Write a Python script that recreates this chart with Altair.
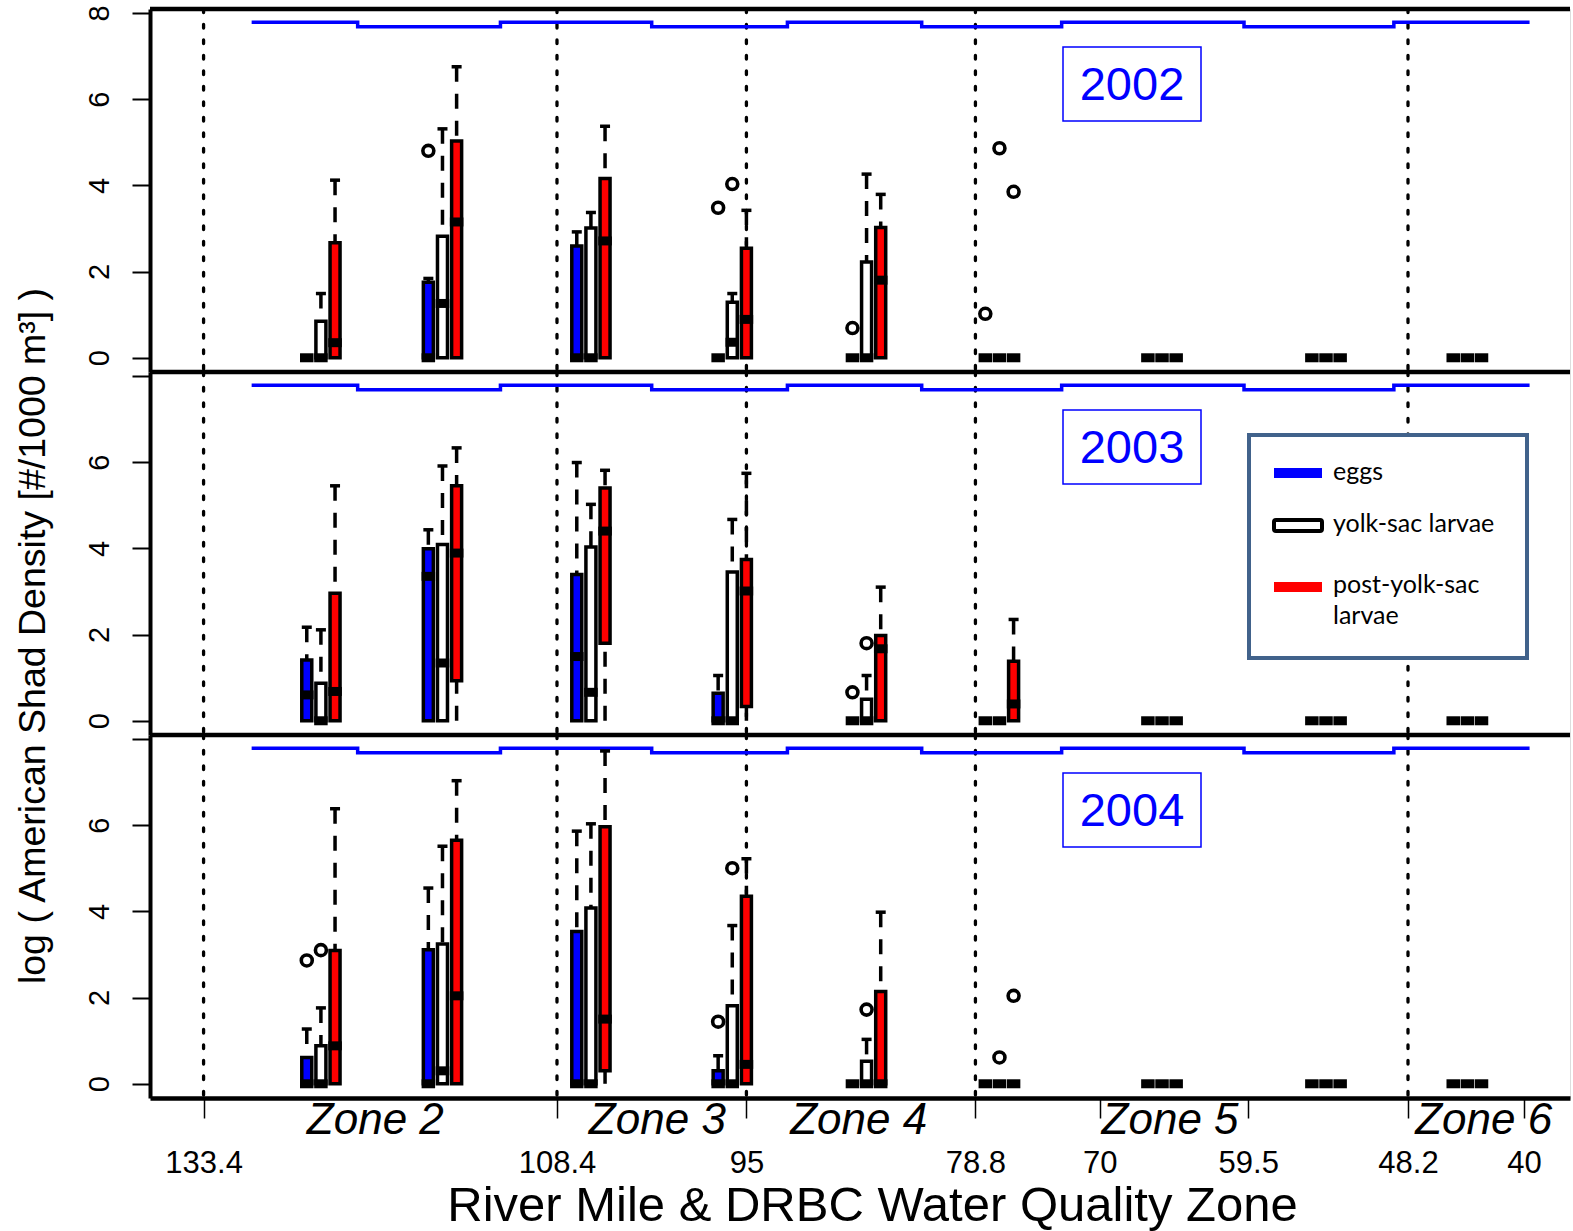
import altair as alt
import pandas as pd

# ---------------- data ----------------
years = [2002, 2003, 2004]
species = ["eggs", "yolk-sac larvae", "post-yolk-sac larvae"]
species_colors = ["#0000ff", "#ffffff", "#ff0000"]
species_offset = [1.0, 0.0, -1.0]          # river miles from the station mile
site_miles = [125.1, 116.5, 106.0, 96.0, 86.5, 77.1, 65.6, 54.0, 44.0]

zone_bounds = [133.4, 108.4, 95, 78.8, 48.2]
axis_miles = [133.4, 108.4, 95, 78.8, 70, 59.5, 48.2, 40]
zone_names = ["Zone 2", "Zone 3", "Zone 4", "Zone 5", "Zone 6"]
zone_label_miles = [121.25, 101.3, 87.06, 65.03, 42.85]

step_miles = [130.0, 122.5, 112.4, 101.7, 92.1, 82.6, 72.7, 59.8, 49.2, 39.6]
step_values = [7.78, 7.68, 7.78, 7.68, 7.78, 7.68, 7.78, 7.68, 7.78, 7.78]

Z = (0, 0, 0, 0, 0)
# (lower whisker, Q1, median, Q3, upper whisker) for each station
eggs_2002 = [Z, (0, 0, 0, 1.75, 1.84), (0, 0, 0, 2.59, 2.92), Z, Z, Z, Z, Z, Z]
yolk_2002 = [(0, 0, 0, 0.85, 1.49), (0, 0, 1.26, 2.82, 5.31), (0, 0, 0, 3.01, 3.37),
             (0, 0, 0.36, 1.29, 1.49), (0, 0, 0, 2.22, 4.26), Z, Z, Z, Z]
post_2002 = [(0, 0, 0.35, 2.67, 4.12), (0, 0, 3.15, 5.03, 6.75), (0, 0, 2.71, 4.16, 5.37),
             (0, 0, 0.89, 2.54, 3.42), (0, 0, 1.80, 3.02, 3.79), Z, Z, Z, Z]

eggs_2003 = [(0, 0, 0.60, 1.41, 2.17), (0, 0, 3.35, 3.99, 4.43), (0, 0, 1.49, 3.39, 5.99),
             (0, 0, 0, 0.64, 1.05), Z, Z, Z, Z, Z]
yolk_2003 = [(0, 0, 0, 0.87, 2.11), (0, 0, 1.34, 4.09, 5.91), (0, 0, 0.66, 4.03, 5.02),
             (0, 0, 0, 3.45, 4.67), (0, 0, 0, 0.50, 1.05), Z, Z, Z, Z]
post_2003 = [(0, 0, 0.68, 2.96, 5.45), (0, 0.93, 3.89, 5.45, 6.33), (0, 1.80, 4.40, 5.40, 5.81),
             (0, 0.33, 3.01, 3.74, 5.74), (0, 0, 1.67, 1.98, 3.10), (0, 0, 0.39, 1.38, 2.35),
             Z, Z, Z]

eggs_2004 = [(0, 0, 0, 0.61, 1.27), (0, 0, 0, 3.11, 4.54), (0, 0, 0, 3.53, 5.86),
             (0, 0, 0, 0.30, 0.65), Z, Z, Z, Z, Z]
yolk_2004 = [(0, 0, 0, 0.88, 1.76), (0, 0, 0.30, 3.24, 5.51), (0, 0, 0, 4.08, 6.03),
             (0, 0, 0, 1.81, 3.67), (0, 0, 0, 0.52, 1.03), Z, Z, Z, Z]
post_2004 = [(0, 0, 0.88, 3.09, 6.38), (0, 0, 2.04, 5.65, 7.03), (0, 0.30, 1.50, 5.96, 7.72),
             (0, 0, 0.45, 4.35, 5.22), (0, 0, 0, 2.14, 3.98), Z, Z, Z, Z]

# outliers: (species index, station index, value)
outliers_2002 = [(0, 1, 4.80), (0, 3, 3.48), (0, 4, 0.69), (0, 5, 1.02),
                 (1, 3, 4.03), (1, 5, 4.86), (2, 5, 3.85)]
outliers_2003 = [(0, 4, 0.66), (1, 4, 1.80)]
outliers_2004 = [(0, 0, 2.86), (1, 0, 3.10), (0, 3, 1.44), (1, 3, 5.00),
                 (1, 4, 1.72), (1, 5, 0.61), (2, 5, 2.04)]

box_stats = {2002: [eggs_2002, yolk_2002, post_2002],
             2003: [eggs_2003, yolk_2003, post_2003],
             2004: [eggs_2004, yolk_2004, post_2004]}
outlier_sets = {2002: outliers_2002, 2003: outliers_2003, 2004: outliers_2004}

rows = []
for yr in years:
    for si, stats in enumerate(box_stats[yr]):
        for k, (lo, q1, med, q3, hi) in enumerate(stats):
            rows.append(dict(year=yr, species=species[si],
                             x=site_miles[k] + species_offset[si],
                             lo=lo, q1=q1, med=med, q3=q3, hi=hi))
box_df = pd.DataFrame(rows)

orows = []
for yr in years:
    for si, k, v in outlier_sets[yr]:
        orows.append(dict(year=yr, species=species[si],
                          x=site_miles[k] + species_offset[si], v=v))
out_df = pd.DataFrame(orows)

bounds_df = pd.DataFrame({"mile": zone_bounds})
step_df = pd.DataFrame({"mile": step_miles, "v": step_values,
                        "idx": list(range(len(step_miles)))})
zone_df = pd.DataFrame({"mile": zone_label_miles, "name": zone_names})
one = pd.DataFrame({"a": [0]})

# ---------------- layout ----------------
W, H = 1420, 363
FONT = "Liberation Sans"
xscale = alt.Scale(domain=[36.74, 137.19], reverse=True, nice=False, zero=False, padding=0)
yscale = alt.Scale(domain=[-0.33, 8.09], nice=False, zero=False, padding=0)
color_scale = alt.Scale(domain=species, range=species_colors)

xaxis = alt.Axis(values=axis_miles, format=".10~g", grid=False,
                 domainColor="black", domainWidth=4.5,
                 tickColor="black", tickWidth=1.5, tickSize=20,
                 labelFontSize=31, labelColor="black", labelPadding=54,
                 labelBaseline="alphabetic", labelFlush=False, labelOverlap=False,
                 title="River Mile & DRBC Water Quality Zone",
                 titleFontSize=49, titleFontWeight="normal", titleColor="black",
                 titleX=722, titleY=122, titleBaseline="alphabetic", titleAlign="center")


def yaxis(show8):
    kw = dict(values=[0, 2, 4, 6, 8], grid=False,
              domainColor="black", domainWidth=4,
              tickColor="black", tickWidth=2, tickSize=18,
              labelAngle=270, labelAlign="center", labelBaseline="alphabetic",
              labelPadding=24, labelFontSize=29, labelColor="black",
              labelFlush=False, labelOverlap=False, title=None)
    if not show8:
        kw["labelExpr"] = "datum.value == 8 ? '' : datum.label"
    return alt.Axis(**kw)


def panel(i, yr):
    xa = xaxis if i == 2 else None
    ya = yaxis(i == 0)

    def X(f):
        return alt.X(f, type="quantitative", scale=xscale, axis=xa)

    def Y(f):
        return alt.Y(f, type="quantitative", scale=yscale, axis=ya)

    bdf = box_df[box_df["year"] == yr]
    odf = out_df[out_df["year"] == yr]
    nz = bdf[bdf["hi"] > 0]
    b = alt.Chart(bdf)

    layers = []
    # top border / separator
    layers.append(alt.Chart(one).mark_rule(color="black", strokeWidth=4.5).encode(
        x=alt.value(0), x2=alt.value(W), y=alt.value(0)))
    if i == 0:
        layers.append(alt.Chart(one).mark_rule(color="white", strokeWidth=1).encode(
            x=alt.value(-149), x2=alt.value(-140), y=alt.value(-7.5)))
    # zone boundaries
    layers.append(alt.Chart(bounds_df).mark_rule(
        color="black", strokeWidth=3.3, strokeDash=[3.5, 12], strokeCap="round").encode(
        x=X("mile"), y=alt.value(0), y2=alt.value(H)))
    # blue step line
    layers.append(alt.Chart(step_df).mark_line(
        color="#0000ff", strokeWidth=3.5, interpolate="step-after").encode(
        x=X("mile"), y=Y("v"), order=alt.Order("idx:Q")))
    # whiskers
    layers.append(alt.Chart(bdf[bdf["hi"] > bdf["q3"]]).mark_rule(
        color="black", strokeWidth=3.5, strokeDash=[15, 12]).encode(
        x=X("x"), y=Y("hi"), y2=alt.Y2("q3")))
    lo_df = bdf[bdf["lo"] < bdf["q1"]]
    if len(lo_df):
        layers.append(alt.Chart(lo_df).mark_rule(
            color="black", strokeWidth=3.5, strokeDash=[15, 12]).encode(
            x=X("x"), y=Y("lo"), y2=alt.Y2("q1")))
    # staples
    layers.append(alt.Chart(nz).mark_tick(
        orient="horizontal", color="black", size=10, thickness=3.5, opacity=1).encode(
        x=X("x"), y=Y("hi")))
    # boxes
    layers.append(b.mark_bar(size=10, stroke="black", strokeWidth=3.5, opacity=1).encode(
        x=X("x"), y=Y("q1"), y2=alt.Y2("q3"),
        color=alt.Color("species:N", scale=color_scale, legend=None)))
    # medians
    layers.append(b.mark_tick(
        orient="horizontal", color="black", size=13.5, thickness=9, opacity=1).encode(
        x=X("x"), y=Y("med")))
    # outliers
    if len(odf):
        layers.append(alt.Chart(odf).mark_point(
            shape="circle", filled=False, color="black", size=120,
            strokeWidth=3.6, opacity=1).encode(x=X("x"), y=Y("v")))
    # year label
    layers.append(alt.Chart(one).mark_rect(
        fill="white", stroke="#0000ff", strokeWidth=1.5).encode(
        x=alt.value(913), x2=alt.value(1051), y=alt.value(38), y2=alt.value(112)))
    layers.append(alt.Chart(one).mark_text(
        font=FONT, fontSize=47, color="#0000ff", align="center", baseline="middle").encode(
        x=alt.value(982), y=alt.value(77), text=alt.value(str(yr))))

    if i == 1:
        # y title
        layers.append(alt.Chart(one).mark_text(
            font=FONT, fontSize=37.5, color="black", angle=270,
            align="center", baseline="middle").encode(
            x=alt.value(-116), y=alt.value(264),
            text=alt.value("log ( American Shad Density [#/1000 m\u00b3] )")))
        # legend
        layers.append(alt.Chart(one).mark_rect(
            fill="white", stroke="#41628b", strokeWidth=4).encode(
            x=alt.value(1099), x2=alt.value(1377), y=alt.value(63), y2=alt.value(286)))
        layers.append(alt.Chart(one).mark_rect(fill=species_colors[0]).encode(
            x=alt.value(1124), x2=alt.value(1172), y=alt.value(96), y2=alt.value(106)))
        layers.append(alt.Chart(one).mark_rect(
            fill="white", stroke="black", strokeWidth=4, cornerRadius=2).encode(
            x=alt.value(1124), x2=alt.value(1172), y=alt.value(148), y2=alt.value(159)))
        layers.append(alt.Chart(one).mark_rect(fill=species_colors[2]).encode(
            x=alt.value(1124), x2=alt.value(1172), y=alt.value(210), y2=alt.value(220)))
        legend_text = dict(font="Lato", fontSize=25, color="black",
                           align="left", baseline="alphabetic", lineHeight=31)
        layers.append(alt.Chart(one).mark_text(**legend_text).encode(
            x=alt.value(1183), y=alt.value(108), text=alt.value(species[0])))
        layers.append(alt.Chart(one).mark_text(**legend_text).encode(
            x=alt.value(1183), y=alt.value(160), text=alt.value(species[1])))
        layers.append(alt.Chart(one).mark_text(**legend_text).encode(
            x=alt.value(1183), y=alt.value(221), text=alt.value(species[2].split(" "))))

    if i == 2:
        layers.append(alt.Chart(zone_df).mark_text(
            font=FONT, fontSize=44, fontStyle="italic", color="black",
            align="center", baseline="alphabetic").encode(
            x=X("mile"), y=alt.value(399), text="name:N"))

    return alt.layer(*layers).properties(width=W, height=H)


chart = alt.vconcat(*[panel(i, yr) for i, yr in enumerate(years)],
                    spacing=0, bounds="flush").properties(
    padding=0, background="white"
).configure_view(stroke=None).configure(font=FONT)

chart.save("out.html", embed_options={"renderer": "svg", "actions": False})
